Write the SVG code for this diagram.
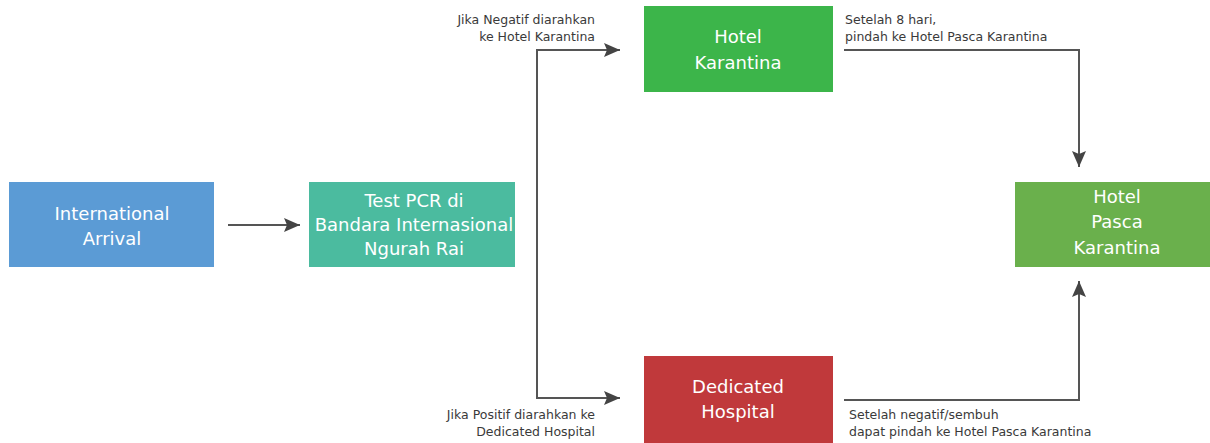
<svg xmlns="http://www.w3.org/2000/svg" width="1210" height="443" viewBox="0 0 1210 443">
<style>
.node-text{font-family:"DejaVu Sans","Liberation Sans",sans-serif;font-size:18px;fill:#ffffff;text-anchor:middle}
.lbl{font-family:"DejaVu Sans","Liberation Sans",sans-serif;font-size:12.5px;fill:#3a3a3a}
.lbl-r{text-anchor:end}
.conn{fill:none;stroke:#555555;stroke-width:2}
</style>
<defs>
<marker id="ah" viewBox="0 0 16 14" refX="16" refY="7" markerWidth="16" markerHeight="14" markerUnits="userSpaceOnUse" orient="auto">
<path d="M0,0 L16,7 L0,14 L3,7 Z" fill="#444444"/>
</marker>
</defs>
<rect width="1210" height="443" fill="#ffffff"/>
<g id="connectors">
<line class="conn" x1="228" y1="225" x2="300" y2="225" marker-end="url(#ah)"/>
<polyline class="conn" points="537,398 537,50 620,50" marker-end="url(#ah)"/>
<polyline class="conn" points="537,300 537,398 620,398" marker-end="url(#ah)"/>
<polyline class="conn" points="844,50 1079,50 1079,167" marker-end="url(#ah)"/>
<polyline class="conn" points="844,400 1079,400 1079,281" marker-end="url(#ah)"/>
</g>
<g id="labels">
<text class="lbl lbl-r" x="595" y="24">Jika Negatif diarahkan</text>
<text class="lbl lbl-r" x="595" y="41">ke Hotel Karantina</text>
<text class="lbl" x="845" y="24">Setelah 8 hari,</text>
<text class="lbl" x="845" y="41">pindah ke Hotel Pasca Karantina</text>
<text class="lbl lbl-r" x="595" y="419">Jika Positif diarahkan ke</text>
<text class="lbl lbl-r" x="595" y="436">Dedicated Hospital</text>
<text class="lbl" x="849" y="419">Setelah negatif/sembuh</text>
<text class="lbl" x="849" y="436">dapat pindah ke Hotel Pasca Karantina</text>
</g>
<g id="international-arrival">
<rect x="9" y="182" width="205" height="85" fill="#5b9bd5"/>
<text class="node-text" x="112" y="220">International</text>
<text class="node-text" x="112" y="245">Arrival</text>
</g>
<g id="test-pcr">
<rect x="309" y="182" width="206" height="85" fill="#4bbb9f"/>
<text class="node-text" x="414" y="207">Test PCR di</text>
<text class="node-text" x="414" y="231">Bandara Internasional</text>
<text class="node-text" x="414" y="255">Ngurah Rai</text>
</g>
<g id="hotel-karantina">
<rect x="644" y="6" width="189" height="86" fill="#3cb54a"/>
<text class="node-text" x="738" y="43">Hotel</text>
<text class="node-text" x="738" y="69">Karantina</text>
</g>
<g id="dedicated-hospital">
<rect x="644" y="356" width="189" height="87" fill="#c0393b"/>
<text class="node-text" x="738" y="393">Dedicated</text>
<text class="node-text" x="738" y="418">Hospital</text>
</g>
<g id="hotel-pasca-karantina">
<rect x="1015" y="182" width="195" height="85" fill="#6ab04c"/>
<text class="node-text" x="1117" y="203">Hotel</text>
<text class="node-text" x="1117" y="228">Pasca</text>
<text class="node-text" x="1117" y="254">Karantina</text>
</g>
</svg>
